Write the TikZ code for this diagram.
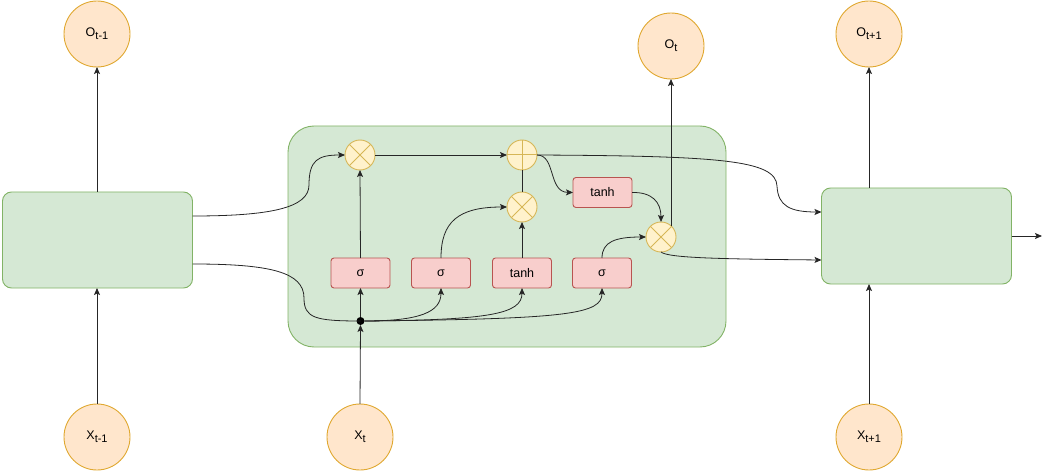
\documentclass[tikz,border=0pt]{standalone}
\usepackage{fontspec}
\setmainfont{Liberation Sans}
\usetikzlibrary{arrows.meta}
\definecolor{gfill}{HTML}{D5E8D4}
\definecolor{gdraw}{HTML}{82B366}
\definecolor{rfill}{HTML}{F8CECC}
\definecolor{rdraw}{HTML}{B85450}
\definecolor{ofill}{HTML}{FFE6CC}
\definecolor{odraw}{HTML}{E0A830}
\definecolor{yfill}{HTML}{FFF2CC}
\definecolor{ydraw}{HTML}{D6B656}
\newcommand{\lsub}[2]{#1\raisebox{-3pt}{\fontsize{11}{12}\selectfont #2}}
\begin{document}
\begin{tikzpicture}[x=1pt,y=-1pt,
  every node/.style={inner sep=0pt,outer sep=0pt,font=\fontsize{12.5}{14}\selectfont},
  io/.style={circle,draw=odraw,fill=ofill,line width=0.9pt,minimum size=66pt},
  cellbox/.style={rectangle,rounded corners=9pt,draw=gdraw,fill=gfill,line width=0.9pt,minimum width=190pt,minimum height=96pt},
  gate/.style={rectangle,rounded corners=3pt,draw=rdraw,fill=rfill,line width=0.9pt,minimum width=59pt,minimum height=30pt},
  mul/.style={circle,draw=ydraw,fill=yfill,line width=0.9pt,minimum size=30pt,
    path picture={\draw[ydraw,line width=1pt] (path picture bounding box.north east) -- (path picture bounding box.south west) (path picture bounding box.north west) -- (path picture bounding box.south east);}},
  add/.style={circle,draw=ydraw,fill=yfill,line width=0.9pt,minimum size=30pt,
    path picture={\draw[ydraw,line width=1pt] (path picture bounding box.north) -- (path picture bounding box.south) (path picture bounding box.west) -- (path picture bounding box.east);}},
  conn/.style={line width=0.8pt,draw=black!85},
  arr/.style={conn,-{Stealth[length=7pt,width=6pt,inset=1.5pt]}}
]
\useasboundingbox (0,0) rectangle (1045,476);

% big cell
\node[rectangle,rounded corners=26pt,draw=gdraw,fill=gfill,line width=0.9pt,minimum width=438pt,minimum height=221pt] (cell) at (507,236.5) {};

% outer nodes
\node[io] (Ot1) at (97,34) {\lsub{O}{t-1}};
\node[cellbox] (lbox) at (97.5,240) {};
\node[io] (Xt1) at (97,437) {\lsub{X}{t-1}};
\node[io] (Xt) at (360,437) {\lsub{X}{t}};
\node[io] (Ot) at (671,46) {\lsub{O}{t}};
\node[io] (Ot2) at (869,34) {\lsub{O}{t+1}};
\node[cellbox] (rbox) at (916.5,236) {};
\node[io] (Xt2) at (869,437) {\lsub{X}{t+1}};
\coordinate (out) at (1042,236);

% inner nodes
\node[mul] (m1) at (360,155) {};
\node[add] (pl) at (522,155) {};
\node[mul] (m2) at (522,207) {};
\node[gate] (th2) at (602.5,192.5) {tanh};
\node[mul] (m3) at (661,237) {};
\node[gate] (s1) at (360.5,273) {σ};
\node[gate] (s2) at (441,273) {σ};
\node[gate] (th1) at (522,273) {tanh};
\node[gate] (s4) at (602,273) {σ};
\node[circle,fill=black,minimum size=8pt] (dot) at (360.5,321) {};

% outer connectors
\draw[arr] (Ot1.south |- lbox.north) -- (Ot1.south);
\draw[arr] (Xt1.north) -- (Xt1.north |- lbox.south);
\draw[arr] (Ot2.south |- rbox.north) -- (Ot2.south);
\draw[arr] (Xt2.north) -- (Xt2.north |- rbox.south);
\draw[arr] (rbox.east) -- (out);

% left box into cell
\draw[arr] ([yshift=24pt]lbox.east) .. controls (270,216) and (309,208) .. (309,185) .. controls (309,160) and (318,155) .. (m1.west);
\draw[conn] ([yshift=-24pt]lbox.east) .. controls (270,264) and (304,272) .. (304,298) .. controls (304,318) and (315,321) .. (dot.center);

% input
\draw[arr] (Xt.north) -- (dot.south);
\draw[arr] (dot.north) -- (s1.south);
\draw[arr] (dot.east) .. controls (420,321) and (441,312) .. (s2.south);
\draw[arr] (dot.east) .. controls (490,320) and (522,314) .. (th1.south);
\draw[arr] (dot.east) .. controls (570,319) and (602,314) .. (s4.south);

% gates
\draw[arr] (s1.north) -- (m1.south);
\draw[arr] (s2.north) .. controls (441,222) and (458,207) .. (m2.west);
\draw[arr] (th1.north) -- (m2.south);
\draw[conn] (m2.north) -- (pl.south);
\draw[arr] (m1.east) -- (pl.west);
\draw[arr] (pl.east) .. controls (556,155) and (548,192) .. (th2.west);
\draw[arr] (th2.east) .. controls (652,192) and (661,202) .. (m3.north);
\draw[arr] (s4.north) .. controls (602,242) and (615,237) .. (m3.west);
\draw[arr] (Ot.south |- m3.north east) -- (Ot.south);

% outputs to next cell
\draw[arr] (pl.east) .. controls (720,156) and (776,160) .. (777,186) .. controls (778,206) and (790,212) .. ([yshift=24pt]rbox.west);
\draw[arr] (m3.south) .. controls (668,258) and (720,259) .. ([yshift=-24pt]rbox.west);
\end{tikzpicture}
\end{document}
